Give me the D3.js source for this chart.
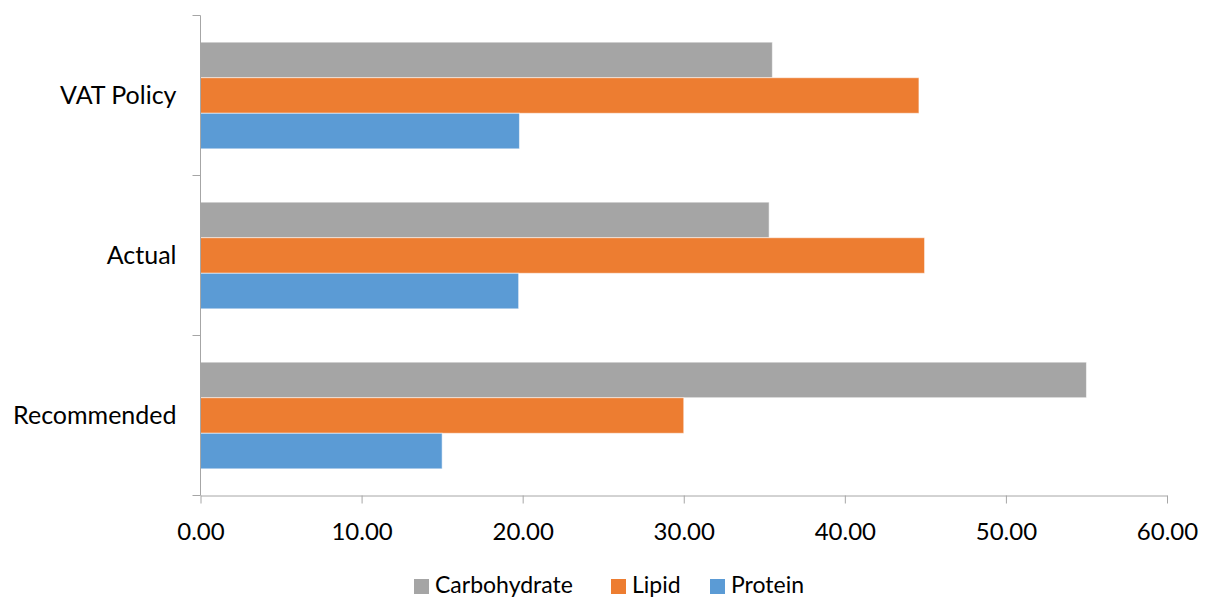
<!DOCTYPE html>
<html>
<head>
<meta charset="utf-8">
<script src="https://cdn.jsdelivr.net/npm/d3@7"></script>
<style>
  html, body { margin: 0; padding: 0; background: #fff; }
  svg text { font-family: Lato, "Open Sans", sans-serif; fill: #000; }
</style>
</head>
<body>
<svg id="chart" width="1209" height="599"></svg>
<script>
// Diet composition (%) by scenario
const categories = ["VAT Policy", "Actual", "Recommended"];
const seriesNames = ["Carbohydrate", "Lipid", "Protein"];
const carbohydrate = [35.5, 35.3, 55.0];
const lipid = [44.6, 44.95, 30.0];
const protein = [19.8, 19.75, 15.0];
const xTicks = [0, 10, 20, 30, 40, 50, 60];

const colors = { Carbohydrate: "#A5A5A5", Lipid: "#ED7D31", Protein: "#5B9BD5" };
const valuesBySeries = { Carbohydrate: carbohydrate, Lipid: lipid, Protein: protein };

const svg = d3.select("#chart");
const plotLeft = 200.5, plotRight = 1167, plotTop = 15.5, plotBottom = 495.5;

const x = d3.scaleLinear().domain([0, 60]).range([plotLeft, plotRight]);
const y = d3.scaleBand().domain(categories).range([plotTop, plotBottom]).paddingInner(0).paddingOuter(0);
// gap width 150%: each bar = band / (3 + 1.5)
const barH = y.bandwidth() / 4.5;
const barY = (cat, s) => y(cat) + barH * 0.75 + seriesNames.indexOf(s) * barH;

const rows = [];
seriesNames.forEach(s => categories.forEach((c, i) => rows.push({ s, c, v: valuesBySeries[s][i] })));

svg.append("g").selectAll("rect").data(rows).join("rect")
  .attr("x", x(0))
  .attr("y", d => barY(d.c, d.s))
  .attr("width", d => x(d.v) - x(0))
  .attr("height", barH)
  .attr("fill", d => colors[d.s])
  .attr("stroke", "#fff")
  .attr("stroke-opacity", 0.55)
  .attr("stroke-width", 1);

const axisColor = "#A6A6A6";

// x axis
const xAxis = svg.append("g").attr("transform", `translate(0,${plotBottom})`)
  .call(d3.axisBottom(x).tickValues(xTicks).tickFormat(d3.format(".2f")).tickSize(8).tickSizeOuter(0));
xAxis.select(".domain").attr("stroke", axisColor);
xAxis.selectAll(".tick line").attr("stroke", axisColor);
xAxis.selectAll(".tick text").attr("font-size", 24).attr("dy", "0.35em").attr("y", 36)
  .attr("font-family", "Lato").attr("fill", "#000");

// y axis: ticks at category boundaries
const yAxisG = svg.append("g");
yAxisG.append("line").attr("x1", plotLeft).attr("x2", plotLeft).attr("y1", plotTop).attr("y2", plotBottom)
  .attr("stroke", axisColor);
const boundaries = categories.map(c => y(c)).concat([plotBottom]);
yAxisG.selectAll("line.tk").data(boundaries).join("line").attr("class", "tk")
  .attr("x1", plotLeft - 8).attr("x2", plotLeft).attr("y1", d => d).attr("y2", d => d)
  .attr("stroke", axisColor);
yAxisG.selectAll("text").data(categories).join("text")
  .attr("x", plotLeft - 24)
  .attr("y", c => y(c) + y.bandwidth() / 2)
  .attr("dy", "0.35em")
  .attr("text-anchor", "end")
  .attr("font-size", 25)
  .text(c => c);

// legend
const legendItems = [
  { s: "Carbohydrate", x: 414 },
  { s: "Lipid", x: 611 },
  { s: "Protein", x: 710 }
];
const lg = svg.append("g");
lg.selectAll("rect").data(legendItems).join("rect")
  .attr("x", d => d.x).attr("y", 579).attr("width", 15).attr("height", 15)
  .attr("fill", d => colors[d.s]);
lg.selectAll("text").data(legendItems).join("text")
  .attr("x", d => d.x + 21).attr("y", 593)
  .attr("font-size", 23)
  .text(d => d.s);
</script>
</body>
</html>
